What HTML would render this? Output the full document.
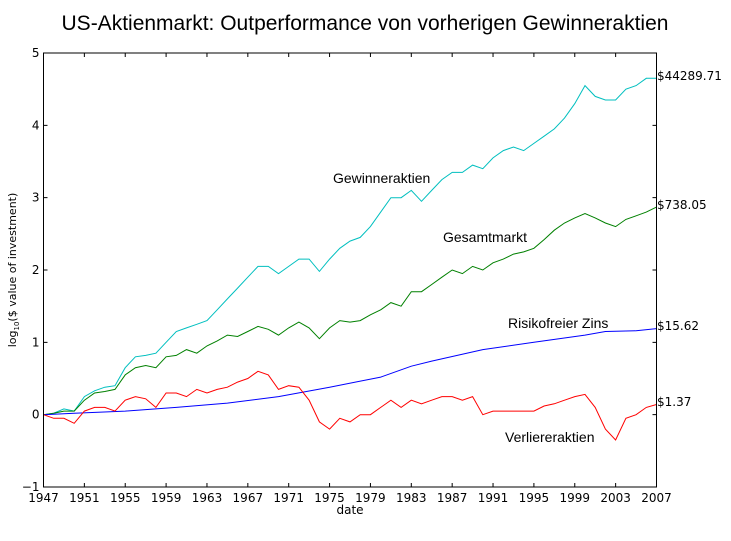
<!DOCTYPE html>
<html><head><meta charset="utf-8"><style>
body{margin:0;background:#fff;}
svg{display:block;font-family:"DejaVu Sans","Liberation Sans",sans-serif;}
</style></head><body>
<svg id="chart" width="731" height="541">
<text x="365" y="30" text-anchor="middle" font-family="Liberation Sans, sans-serif" font-size="21" fill="#000">US-Aktienmarkt: Outperformance von vorherigen Gewinneraktien</text>
<g id="ticks"></g>
<g id="series"></g>
<rect x="43.5" y="53" width="613" height="434" fill="none" stroke="#000" stroke-width="1"/>
<text x="350" y="514" text-anchor="middle" font-size="12">date</text>
<text transform="translate(16,270) rotate(-90)" text-anchor="middle" font-size="11">log<tspan font-size="7" dy="3">10</tspan><tspan dy="-3">($ value of investment)</tspan></text>
<g font-family="Liberation Sans, sans-serif" font-size="14">
<text x="333" y="183">Gewinneraktien</text>
<text x="443" y="242">Gesamtmarkt</text>
<text x="508" y="328">Risikofreier Zins</text>
<text x="505" y="442">Verliereraktien</text>
</g>
<g font-size="12">
<text x="657" y="80">$44289.71</text>
<text x="657" y="209">$738.05</text>
<text x="657" y="330">$15.62</text>
<text x="657" y="406">$1.37</text>
</g>
</svg>
<script>
const yearsAll = [1947,1948,1949,1950,1951,1952,1953,1954,1955,1956,1957,1958,1959,1960,1961,1962,1963,1964,1965,1966,1967,1968,1969,1970,1971,1972,1973,1974,1975,1976,1977,1978,1979,1980,1981,1982,1983,1984,1985,1986,1987,1988,1989,1990,1991,1992,1993,1994,1995,1996,1997,1998,1999,2000,2001,2002,2003,2004,2005,2006,2007];
const winners = [0,0.02,0.08,0.05,0.25,0.33,0.38,0.4,0.65,0.8,0.82,0.85,1.0,1.15,1.2,1.25,1.3,1.45,1.6,1.75,1.9,2.05,2.05,1.95,2.05,2.15,2.15,1.98,2.15,2.3,2.4,2.45,2.6,2.8,3.0,3.0,3.1,2.95,3.1,3.25,3.35,3.35,3.45,3.4,3.55,3.65,3.7,3.65,3.75,3.85,3.95,4.1,4.3,4.55,4.4,4.35,4.35,4.5,4.55,4.65,4.65];
const market = [0,0.02,0.05,0.05,0.2,0.3,0.32,0.35,0.55,0.65,0.68,0.65,0.8,0.82,0.9,0.85,0.95,1.02,1.1,1.08,1.15,1.22,1.18,1.1,1.2,1.28,1.2,1.05,1.2,1.3,1.28,1.3,1.38,1.45,1.55,1.5,1.7,1.7,1.8,1.9,2.0,1.95,2.05,2.0,2.1,2.15,2.22,2.25,2.3,2.42,2.55,2.65,2.72,2.78,2.72,2.65,2.6,2.7,2.75,2.8,2.87];
const losers = [0,-0.05,-0.05,-0.12,0.05,0.1,0.1,0.05,0.2,0.25,0.22,0.1,0.3,0.3,0.25,0.35,0.3,0.35,0.38,0.45,0.5,0.6,0.55,0.35,0.4,0.38,0.2,-0.1,-0.2,-0.05,-0.1,0,0,0.1,0.2,0.1,0.2,0.15,0.2,0.25,0.25,0.2,0.25,0,0.05,0.05,0.05,0.05,0.05,0.12,0.15,0.2,0.25,0.28,0.1,-0.2,-0.35,-0.05,0,0.1,0.14];
const rfYears = [1947,1950,1955,1960,1965,1970,1975,1980,1983,1985,1990,1995,2000,2002,2005,2007];
const riskfree = [0,0.02,0.05,0.1,0.16,0.25,0.38,0.52,0.67,0.74,0.9,1.0,1.1,1.15,1.16,1.19];
const xTicks = [1947,1951,1955,1959,1963,1967,1971,1975,1979,1983,1987,1991,1995,1999,2003,2007];
const yTicks = [-1,0,1,2,3,4,5];

const L=43.5,R=656.5,T=53,B=487;
const xs = y => L + (y-1947)/(2007-1947)*(R-L);
const ys = v => B - (v+1)/6*(B-T);
const NS="http://www.w3.org/2000/svg";
const tg=document.getElementById('ticks'), sg=document.getElementById('series');
xTicks.forEach(t=>{
  const x=xs(t);
  const l=document.createElementNS(NS,'path');
  l.setAttribute('d',`M${x},${B}v-4M${x},${T}v4`);l.setAttribute('stroke','#000');
  
  
  tg.appendChild(l);
  const tx=document.createElementNS(NS,'text');
  tx.setAttribute('x',x);tx.setAttribute('y',B+15);tx.setAttribute('text-anchor','middle');tx.setAttribute('font-size','12');
  tx.textContent=t;
  
  
  tg.appendChild(tx);
});
yTicks.forEach(t=>{
  const y=ys(t);
  const l=document.createElementNS(NS,'path');
  l.setAttribute('d',`M${L},${y}h4M${R},${y}h-4`);l.setAttribute('stroke','#000');
  
  
  tg.appendChild(l);
  const tx=document.createElementNS(NS,'text');
  tx.setAttribute('x',L-4);tx.setAttribute('y',y+4);tx.setAttribute('text-anchor','end');tx.setAttribute('font-size','12');
  tx.textContent=t<0?'\u2212'+(-t):t;
  
  
  tg.appendChild(tx);
});
function line(xv,yv,color,name){
  const p=document.createElementNS(NS,'path');
  p.setAttribute('d',xv.map((x,i)=>(i?'L':'M')+xs(x).toFixed(1)+','+ys(yv[i]).toFixed(1)).join(''));
  p.setAttribute('fill','none');p.setAttribute('stroke',color);p.setAttribute('stroke-width','1');
  
  
  sg.appendChild(p);
}
line(yearsAll,winners,'#00bfbf','line-gewinneraktien');
line(yearsAll,market,'#008000','line-gesamtmarkt');
line(rfYears,riskfree,'#0000ff','line-risikofreier-zins');
line(yearsAll,losers,'#ff0000','line-verliereraktien');
</script>
</body></html>
